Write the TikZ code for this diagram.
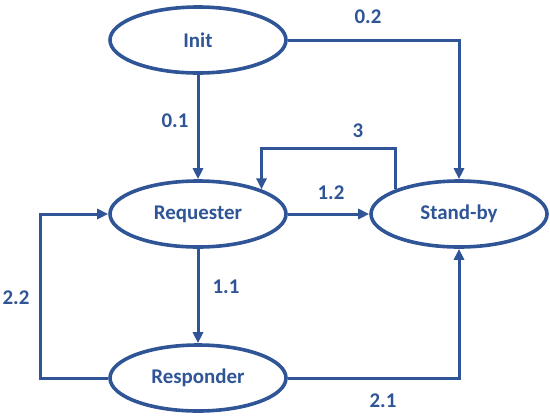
\documentclass[tikz,border=0pt]{standalone}
\usepackage{fontspec}
\setmainfont{Carlito}
\usetikzlibrary{arrows.meta,shapes.geometric}
\definecolor{stateblue}{RGB}{47,85,151}
\begin{document}
\begin{tikzpicture}[x=1bp,y=-1bp,
    every node/.style={font=\fontsize{21}{24}\selectfont\bfseries,text=stateblue},
    state node/.style={ellipse,draw=stateblue,line width=3.6bp,minimum width=176bp,minimum height=66bp,inner sep=0pt},
    link/.style={draw=stateblue,line width=3bp,-{Triangle[length=11bp,width=10bp]}},
    plain link/.style={draw=stateblue,line width=3bp} ]
    \useasboundingbox (0,0) rectangle (550,415);
    \node at (198,40) [state node] (init) {Init};
    \node at (198,214) [state node] (req) {Requester};
    \node at (459,214) [state node] (stby) {Stand-by};
    \node at (198,378) [state node] (resp) {Responder};
    \coordinate (top3) at (0,148);
    \coordinate (left22) at (40,0);
    \draw [link] (init) to (req);
    \draw [link] (init.east) -| (stby.north);
    \draw [link] (stby.north west) -- (stby.north west |- top3) -| (req.north east);
    \draw [link] (req.east) -- (stby.west);
    \draw [link] (req) to (resp);
    \draw [link] (resp.east) -| (stby.south);
    \draw [link] (resp.west) -| (left22 |- req.west) -- (req.west);
    \node at (368,17) (l02) {0.2};
    \node at (175,121) (l01) {0.1};
    \node at (358,131) (l3) {3};
    \node at (331,193) (l12) {1.2};
    \node at (226,287) (l11) {1.1};
    \node at (383,401) (l21) {2.1};
    \node at (16,298) (l22) {2.2};
\end{tikzpicture}
\end{document}
